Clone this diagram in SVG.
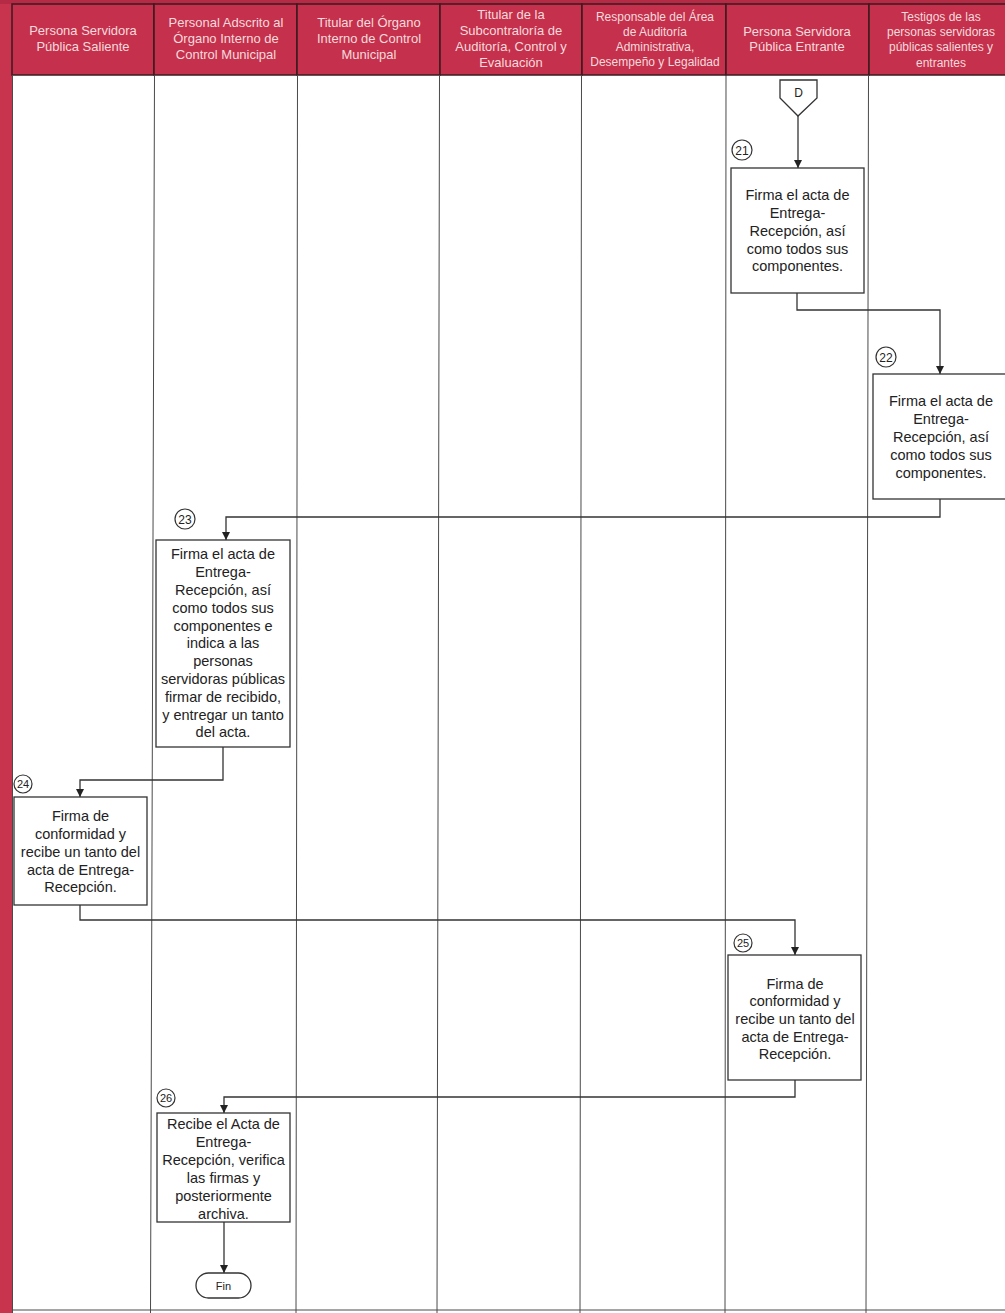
<svg xmlns="http://www.w3.org/2000/svg" width="1005" height="1313" viewBox="0 0 1005 1313">
<defs>
<style>
.hd{fill:#c5314c;stroke:#3a1a1e;stroke-width:1.5}
.ht{font-family:"Liberation Sans",Arial,sans-serif;font-size:13px;fill:#f6dadd;text-anchor:middle}
.ht2{font-family:"Liberation Sans",Arial,sans-serif;font-size:12px;fill:#f6dadd;text-anchor:middle}
.lane{stroke:#4a4a4a;stroke-width:1;fill:none}
.box{fill:#ffffff;stroke:#333333;stroke-width:1.3}
.bt{font-family:"Liberation Sans",Arial,sans-serif;font-size:14.5px;fill:#222222;text-anchor:middle}
.num{fill:#ffffff;stroke:#333333;stroke-width:1.2}
.nt{font-family:"Liberation Sans",Arial,sans-serif;font-size:12px;fill:#222222;text-anchor:middle}
.con{stroke:#333333;stroke-width:1.3;fill:none;marker-end:url(#arr)}
</style>
<marker id="arr" markerWidth="10" markerHeight="10" refX="9" refY="5" orient="auto" markerUnits="userSpaceOnUse">
<path d="M1,1 L9,5 L1,9 Z" fill="#222222"/>
</marker>
</defs>
<rect x="0" y="0" width="1005" height="1313" fill="#ffffff"/>
<rect x="0" y="0" width="12" height="1313" fill="#c8334e"/>
<rect x="0" y="0" width="1005" height="4" fill="#b52a44"/>
<g id="header">
<rect class="hd" x="12" y="4" width="142" height="71"/>
<rect class="hd" x="154" y="4" width="143" height="71"/>
<rect class="hd" x="297" y="4" width="143" height="71"/>
<rect class="hd" x="440" y="4" width="142" height="71"/>
<rect class="hd" x="582" y="4" width="144" height="71"/>
<rect class="hd" x="726" y="4" width="143" height="71"/>
<rect class="hd" x="869" y="4" width="140" height="71"/>
<text class="ht" x="83" y="35">Persona Servidora</text>
<text class="ht" x="83" y="51">Pública Saliente</text>
<text class="ht" x="226" y="27">Personal Adscrito al</text>
<text class="ht" x="226" y="43">Órgano Interno de</text>
<text class="ht" x="226" y="59">Control Municipal</text>
<text class="ht" x="369" y="27">Titular del Órgano</text>
<text class="ht" x="369" y="43">Interno de Control</text>
<text class="ht" x="369" y="59">Municipal</text>
<text class="ht" x="511" y="19">Titular de la</text>
<text class="ht" x="511" y="35">Subcontraloría de</text>
<text class="ht" x="511" y="51">Auditoría, Control y</text>
<text class="ht" x="511" y="67">Evaluación</text>
<text class="ht2" x="655" y="21">Responsable del Área</text>
<text class="ht2" x="655" y="36">de Auditoría</text>
<text class="ht2" x="655" y="51">Administrativa,</text>
<text class="ht2" x="655" y="66">Desempeño y Legalidad</text>
<text class="ht" x="797" y="36">Persona Servidora</text>
<text class="ht" x="797" y="51">Pública Entrante</text>
<text class="ht2" x="941" y="21">Testigos de las</text>
<text class="ht2" x="941" y="36">personas servidoras</text>
<text class="ht2" x="941" y="51">públicas salientes y</text>
<text class="ht2" x="941" y="67">entrantes</text>
</g>
<g id="lanes">
<line class="lane" x1="12.5" y1="75" x2="12.5" y2="1313"/>
<line class="lane" x1="154.5" y1="75" x2="150.5" y2="1313"/>
<line class="lane" x1="297.5" y1="75" x2="296" y2="1313"/>
<line class="lane" x1="439.5" y1="75" x2="437" y2="1313"/>
<line class="lane" x1="581.5" y1="75" x2="580" y2="1313"/>
<line class="lane" x1="726" y1="75" x2="725" y2="1313"/>
<line class="lane" x1="868.5" y1="75" x2="866" y2="1313"/>
<line class="lane" x1="12" y1="1310" x2="1005" y2="1310"/>
</g>
<g id="connectors">
<path class="con" d="M798,116 L798,168"/>
<path class="con" d="M797,293 L797,310 L940,310 L940,374"/>
<path class="con" d="M940,499 L940,517 L226,517 L226,540"/>
<path class="con" d="M223,747 L223,780 L80,780 L80,797"/>
<path class="con" d="M80,905 L80,920 L795,920 L795,955"/>
<path class="con" d="M795,1080 L795,1097 L224,1097 L224,1113"/>
<path class="con" d="M224,1222 L224,1273"/>
</g>
<g id="node-D">
<path class="box" d="M780,80 L817,80 L817,98 L798,116 L780,98 Z"/>
<text class="nt" x="798.5" y="97">D</text>
</g>
<g id="node-21">
<circle class="num" cx="742" cy="150" r="10"/>
<text class="nt" x="742" y="154.5">21</text>
<rect class="box" x="731" y="168" width="133" height="125"/>
<text class="bt" x="797.5" y="200">Firma el acta de</text>
<text class="bt" x="797.5" y="218">Entrega-</text>
<text class="bt" x="797.5" y="236">Recepción, así</text>
<text class="bt" x="797.5" y="254">como todos sus</text>
<text class="bt" x="797.5" y="271">componentes.</text>
</g>
<g id="node-22">
<circle class="num" cx="886" cy="357" r="10"/>
<text class="nt" x="886" y="361.5">22</text>
<rect class="box" x="873" y="374" width="136" height="125"/>
<text class="bt" x="941" y="406">Firma el acta de</text>
<text class="bt" x="941" y="424">Entrega-</text>
<text class="bt" x="941" y="442">Recepción, así</text>
<text class="bt" x="941" y="460">como todos sus</text>
<text class="bt" x="941" y="478">componentes.</text>
</g>
<g id="node-23">
<circle class="num" cx="185" cy="519" r="10"/>
<text class="nt" x="185" y="523.5">23</text>
<rect class="box" x="156" y="540" width="134" height="207"/>
<text class="bt" x="223" y="559">Firma el acta de</text>
<text class="bt" x="223" y="577">Entrega-</text>
<text class="bt" x="223" y="595">Recepción, así</text>
<text class="bt" x="223" y="613">como todos sus</text>
<text class="bt" x="223" y="631">componentes e</text>
<text class="bt" x="223" y="648">indica a las</text>
<text class="bt" x="223" y="666">personas</text>
<text class="bt" x="223" y="684">servidoras públicas</text>
<text class="bt" x="223" y="702">firmar de recibido,</text>
<text class="bt" x="223" y="720">y entregar un tanto</text>
<text class="bt" x="223" y="737">del acta.</text>
</g>
<g id="node-24">
<circle class="num" cx="23" cy="784" r="9"/>
<text class="nt" x="23" y="788" style="font-size:11px">24</text>
<rect class="box" x="14" y="797" width="133" height="108"/>
<text class="bt" x="80.5" y="821">Firma de</text>
<text class="bt" x="80.5" y="839">conformidad y</text>
<text class="bt" x="80.5" y="857">recibe un tanto del</text>
<text class="bt" x="80.5" y="875">acta de Entrega-</text>
<text class="bt" x="80.5" y="892">Recepción.</text>
</g>
<g id="node-25">
<circle class="num" cx="743" cy="943" r="9"/>
<text class="nt" x="743" y="947" style="font-size:11px">25</text>
<rect class="box" x="728" y="955" width="133" height="125"/>
<text class="bt" x="795" y="989">Firma de</text>
<text class="bt" x="795" y="1006">conformidad y</text>
<text class="bt" x="795" y="1024">recibe un tanto del</text>
<text class="bt" x="795" y="1042">acta de Entrega-</text>
<text class="bt" x="795" y="1059">Recepción.</text>
</g>
<g id="node-26">
<circle class="num" cx="166" cy="1098" r="9"/>
<text class="nt" x="166" y="1102" style="font-size:11px">26</text>
<rect class="box" x="157" y="1113" width="133" height="109"/>
<text class="bt" x="223.5" y="1129">Recibe el Acta de</text>
<text class="bt" x="223.5" y="1147">Entrega-</text>
<text class="bt" x="223.5" y="1165">Recepción, verifica</text>
<text class="bt" x="223.5" y="1183">las firmas y</text>
<text class="bt" x="223.5" y="1201">posteriormente</text>
<text class="bt" x="223.5" y="1219">archiva.</text>
</g>
<g id="node-fin">
<rect class="box" x="196" y="1273" width="55" height="25" rx="12.5"/>
<text class="nt" x="223.5" y="1290" style="font-size:11px">Fin</text>
</g>
</svg>
